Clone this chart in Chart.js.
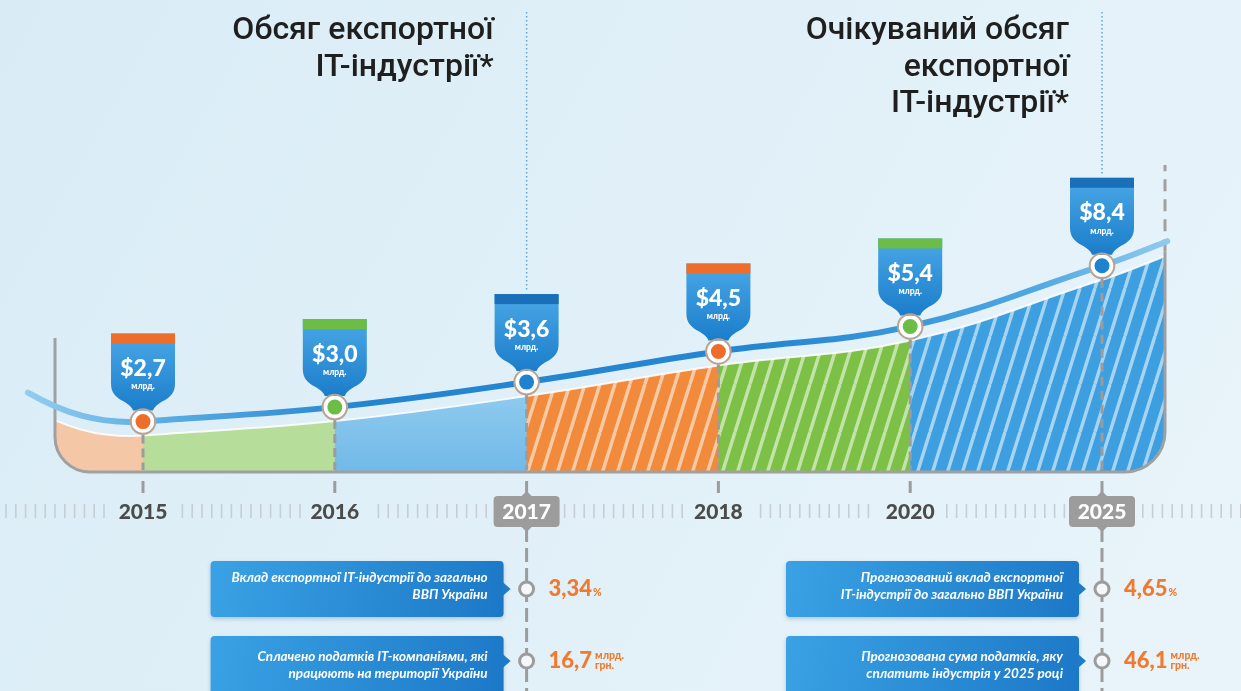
<!DOCTYPE html>
<html lang="uk">
<head>
<meta charset="utf-8">
<title>Обсяг експортної IT-індустрії</title>
<script src="https://cdn.jsdelivr.net/npm/chart.js@4.4.1/dist/chart.umd.min.js"></script>
<style>
  html, body { margin: 0; padding: 0; background: #e2f0f8; overflow: hidden; }
  canvas { display: block; }
</style>
</head>
<body>
<canvas id="chart" width="1241" height="691"></canvas>
<script>
// обсяг експорту IT-індустрії, млрд $
const years = ['2015', '2016', '2017', '2018', '2020', '2025'];
const exportBn = [2.7, 3.0, 3.6, 4.5, 5.4, 8.4];
const keyYears = ['2017', '2025'];

const dotColors = ['#ef6d2a', '#6bbd45', '#1f82d0', '#ef6d2a', '#6bbd45', '#1f82d0'];
const capColors = ['#ef6d2a', '#6bbd45', '#1a6fb9', '#ef6d2a', '#6bbd45', '#1a6fb9'];

const titles2017 = ['Обсяг експортної', 'IT-індустрії*'];
const titles2025 = ['Очікуваний обсяг', 'експортної', 'IT-індустрії*'];

const notes2017 = [
	['Вклад експортної IT-індустрії до загально', 'ВВП України'],
	['Сплачено податків IT-компаніями, які', 'працюють на території України']
];
const notes2025 = [
	['Прогнозований вклад експортної', 'IT-індустрії до загально ВВП України'],
	['Прогнозована сума податків, яку', 'сплатить індустрія у 2025 році']
];
const figures2017 = ['3,34', '16,7'];
const figures2025 = ['4,65', '46,1'];
const figureUnits = [['%'], ['млрд.', 'грн.']];

let canvas = document.getElementById('chart');
let ctx = canvas.getContext('2d');

let lineGradient = ctx.createLinearGradient(25, 0, 1170, 0);
lineGradient.addColorStop(0, '#93cdef');
lineGradient.addColorStop(0.12, '#5aade3');
lineGradient.addColorStop(0.3, '#2384d0');
lineGradient.addColorStop(0.65, '#2586d2');
lineGradient.addColorStop(0.88, '#4fa7e2');
lineGradient.addColorStop(1, '#90cbee');

function hatch(base){
	let c = document.createElement('canvas');
	c.width = 15; c.height = 48;
	let g = c.getContext('2d');
	g.fillStyle = base;
	g.fillRect(0, 0, 15, 48);
	g.strokeStyle = 'rgba(255,255,255,0.55)';
	g.lineWidth = 3.5;
	for(let off of [-15, 0, 15]){
		g.beginPath();
		g.moveTo(off, 48);
		g.lineTo(off + 15, 0);
		g.stroke();
	}
	return ctx.createPattern(c, 'repeat');
}

function money(v){
	return '$' + v.toFixed(1).replace('.', ',');
}

function tails(pts){
	let step = pts[1].x - pts[0].x;
	let p0 = pts[0], n = pts[pts.length - 1], m = pts[pts.length - 2];
	let slope = (n.y - m.y) / (n.x - m.x);
	let E = {x: p0.x - 0.6 * step, y: p0.y - 29};
	let F = {x: n.x + 0.34 * step, y: n.y + slope * 0.34 * step - 4};
	return {
		E: E,
		lc1: {x: E.x + 35, y: E.y + 20},
		lc2: {x: p0.x - 45, y: p0.y + 3},
		F: F,
		rc1: {x: n.x + 22, y: n.y + slope * 22},
		rc2: {x: F.x - 22, y: F.y + 22 * 0.4}
	};
}

function traceCurve(c, pts, dy, t){
	c.moveTo(t.E.x, t.E.y + dy);
	c.bezierCurveTo(t.lc1.x, t.lc1.y + dy, t.lc2.x, t.lc2.y + dy, pts[0].x, pts[0].y + dy);
	for(let i = 1; i < pts.length; i++){
		let a = pts[i - 1], b = pts[i];
		c.bezierCurveTo(a.cp2x, a.cp2y + dy, b.cp1x, b.cp1y + dy, b.x, b.y + dy);
	}
	c.bezierCurveTo(t.rc1.x, t.rc1.y + dy, t.rc2.x, t.rc2.y + dy, t.F.x, t.F.y + dy);
}

function drawPin(c, x, y, cap, label){
	let w = 32, top = y - 88;
	c.beginPath();
	c.moveTo(x - w, top);
	c.lineTo(x + w, top);
	c.lineTo(x + w, y - 38);
	c.bezierCurveTo(x + w, y - 20, x + 14, y - 22, x + 10, y - 11);
	c.lineTo(x - 10, y - 11);
	c.bezierCurveTo(x - 14, y - 22, x - w, y - 20, x - w, y - 38);
	c.closePath();
	let g = c.createLinearGradient(0, top, 0, y - 11);
	g.addColorStop(0, '#4aa8e6');
	g.addColorStop(1, '#1b7dcb');
	c.fillStyle = g;
	c.fill();
	c.fillStyle = cap;
	c.fillRect(x - w, top, 2 * w, 10);
	c.fillStyle = '#ffffff';
	c.textAlign = 'center';
	c.textBaseline = 'middle';
	c.font = '900 23px Lato';
	c.fillText(label, x, y - 53);
	c.font = '900 8.5px Lato';
	c.fillText('млрд.', x, y - 35);
}

function noteBox(c, x0, x1, y0, y1, py, ty, lines){
	let g = c.createLinearGradient(x0, y0, x1, y1);
	g.addColorStop(0, '#3aa2e4');
	g.addColorStop(1, '#1c78c7');
	c.save();
	c.shadowColor = 'rgba(20,70,120,0.25)';
	c.shadowBlur = 4;
	c.shadowOffsetY = 2;
	c.fillStyle = g;
	c.beginPath();
	c.roundRect(x0, y0, x1 - x0, y1 - y0, 4);
	c.fill();
	c.restore();
	c.fillStyle = '#1e7bc8';
	c.beginPath();
	c.moveTo(x1 - 1, py - 7);
	c.lineTo(x1 + 7, py);
	c.lineTo(x1 - 1, py + 7);
	c.closePath();
	c.fill();
	c.fillStyle = '#ffffff';
	c.font = 'italic 700 13.5px Lato';
	c.textAlign = 'right';
	c.textBaseline = 'middle';
	c.fillText(lines[0], x1 - 16, ty - 8.5);
	c.fillText(lines[1], x1 - 16, ty + 8.5);
}

function figure(c, x, y, value, units){
	c.fillStyle = '#f07a2d';
	c.textAlign = 'left';
	c.textBaseline = 'middle';
	c.font = '900 22px Lato';
	c.fillText(value, x, y);
	let w = c.measureText(value).width;
	c.font = '900 10.5px Lato';
	if(units.length == 1){
		c.fillText(units[0], x + w + 1, y + 4);
	}else{
		c.fillText(units[0], x + w + 3, y - 5);
		c.fillText(units[1], x + w + 3, y + 5);
	}
}

function ringDot(c, x, y){
	c.beginPath();
	c.arc(x, y, 7, 0, Math.PI * 2);
	c.fillStyle = '#f4f8fb';
	c.fill();
	c.lineWidth = 3;
	c.strokeStyle = '#9c9c9c';
	c.stroke();
}

const BOWL_L = 55, BOWL_R = 1165, BOWL_B = 472;

let infographic = {
	id: 'infographic',
	beforeDraw(chart){
		let c = chart.ctx;
		let W = chart.width, H = chart.height;
		let xs = chart.scales.x;
		let meta = chart.getDatasetMeta(0);
		c.save();
		let bg = c.createLinearGradient(0, 0, W, H);
		bg.addColorStop(0, '#d9ecf6');
		bg.addColorStop(1, '#e9f4fa');
		c.fillStyle = bg;
		c.fillRect(0, 0, W, H);

		// titles + dotted guides
		let tset = [titles2017, titles2025];
		keyYears.forEach((yr, k) => {
			let i = years.indexOf(yr);
			let x = xs.getPixelForValue(i);
			let p = meta.data[i];
			c.fillStyle = '#1f1f1f';
			c.font = '500 32px Roboto';
			c.textAlign = 'right';
			c.textBaseline = 'alphabetic';
			tset[k].forEach((t, j) => c.fillText(t, x - 33, 39 + j * 36.5));
			c.strokeStyle = '#5fa6d6';
			c.lineWidth = 1.5;
			c.setLineDash([1.5, 2.5]);
			c.beginPath();
			c.moveTo(x, 12);
			c.lineTo(x, p.y - 90);
			c.stroke();
			c.setLineDash([]);
		});
		c.restore();
	},
	beforeDatasetsDraw(chart){
		let c = chart.ctx;
		let meta = chart.getDatasetMeta(0);
		meta.dataset.updateControlPoints(chart.chartArea, 'x');
		let pts = meta.data;
		let t = tails(pts);
		c.save();

		// coloured area under the curve
		let bowl = new Path2D();
		bowl.moveTo(BOWL_L, 0);
		bowl.lineTo(BOWL_R, 0);
		bowl.lineTo(BOWL_R, BOWL_B - 40);
		bowl.arcTo(BOWL_R, BOWL_B, BOWL_R - 40, BOWL_B, 40);
		bowl.lineTo(BOWL_L + 35, BOWL_B);
		bowl.arcTo(BOWL_L, BOWL_B, BOWL_L, BOWL_B - 35, 35);
		bowl.closePath();

		let under = new Path2D();
		traceCurve(under, pts, 14, t);
		under.lineTo(t.F.x + 10, 700);
		under.lineTo(t.E.x - 10, 700);
		under.closePath();

		let lb = c.createLinearGradient(0, 380, 0, 470);
		lb.addColorStop(0, '#93cdef');
		lb.addColorStop(1, '#72bae9');
		let styles = ['#f4c8a6', '#b7dd9b', lb, hatch('#f28a3b'), hatch('#7cc146'), hatch('#3d9fe0')];
		let edges = [BOWL_L].concat(pts.map(p => p.x)).concat([BOWL_R]);
		// 2025 lies inside the last region
		edges.splice(edges.length - 2, 1);

		c.save();
		c.clip(bowl);
		c.clip(under);
		for(let i = 0; i < styles.length; i++){
			c.fillStyle = styles[i];
			c.fillRect(edges[i], 0, edges[i + 1] - edges[i] + 0.5, 700);
		}
		c.restore();

		c.save();
		c.clip(bowl);
		c.beginPath();
		traceCurve(c, pts, 14, t);
		c.strokeStyle = 'rgba(255,255,255,0.85)';
		c.lineWidth = 2;
		c.stroke();
		c.restore();

		// bowl outline
		c.strokeStyle = '#a0a0a0';
		c.lineWidth = 3;
		c.beginPath();
		c.moveTo(BOWL_L, 338);
		c.lineTo(BOWL_L, BOWL_B - 35);
		c.arcTo(BOWL_L, BOWL_B, BOWL_L + 35, BOWL_B, 35);
		c.lineTo(BOWL_R - 40, BOWL_B);
		c.arcTo(BOWL_R, BOWL_B, BOWL_R, BOWL_B - 40, 40);
		c.lineTo(BOWL_R, t.F.y + 10);
		c.stroke();
		c.setLineDash([12, 8]);
		c.beginPath();
		c.moveTo(BOWL_R, t.F.y + 10);
		c.lineTo(BOWL_R, 165);
		c.stroke();

		// year guides
		c.strokeStyle = '#9c9c9c';
		c.setLineDash([9, 5]);
		pts.forEach((p, i) => {
			c.beginPath();
			c.moveTo(p.x, p.y + 13);
			c.lineTo(p.x, BOWL_B - 2);
			c.stroke();
		});
		c.setLineDash([]);
		pts.forEach((p, i) => {
			c.beginPath();
			c.moveTo(p.x, 481);
			c.lineTo(p.x, 493);
			c.stroke();
			if(keyYears.includes(years[i])){
				c.setLineDash([14, 6]);
				c.beginPath();
				c.moveTo(p.x, 528);
				c.lineTo(p.x, 691);
				c.stroke();
				c.setLineDash([]);
			}
		});

		// ruler
		c.strokeStyle = '#c6ced4';
		c.lineWidth = 1.6;
		for(let x = 6; x < chart.width; x += 9.8){
			if(pts.some(p => Math.abs(p.x - x) < 34)) continue;
			c.beginPath();
			c.moveTo(x, 504);
			c.lineTo(x, 518);
			c.stroke();
		}

		// year labels
		c.textAlign = 'center';
		c.textBaseline = 'middle';
		c.font = '900 21px Lato';
		pts.forEach((p, i) => {
			if(keyYears.includes(years[i])){
				c.fillStyle = '#9c9c9c';
				c.beginPath();
				c.roundRect(p.x - 33, 496, 66, 31, 4);
				c.fill();
				c.beginPath();
				c.moveTo(p.x - 5, 496); c.lineTo(p.x, 491); c.lineTo(p.x + 5, 496);
				c.moveTo(p.x - 5, 527); c.lineTo(p.x, 532); c.lineTo(p.x + 5, 527);
				c.fill();
				c.fillStyle = '#ffffff';
			}else{
				c.fillStyle = '#4b4b4b';
			}
			c.fillText(years[i], p.x, 512);
		});

		// line tails
		c.strokeStyle = lineGradient;
		c.lineWidth = 6;
		c.lineCap = 'round';
		let n = pts[pts.length - 1];
		c.beginPath();
		c.moveTo(t.E.x, t.E.y);
		c.bezierCurveTo(t.lc1.x, t.lc1.y, t.lc2.x, t.lc2.y, pts[0].x, pts[0].y);
		c.moveTo(n.x, n.y);
		c.bezierCurveTo(t.rc1.x, t.rc1.y, t.rc2.x, t.rc2.y, t.F.x, t.F.y);
		c.stroke();
		c.restore();
	},
	afterDatasetsDraw(chart){
		let c = chart.ctx;
		let pts = chart.getDatasetMeta(0).data;
		c.save();
		pts.forEach((p, i) => {
			drawPin(c, p.x, p.y, capColors[i], money(exportBn[i]));
			c.beginPath();
			c.arc(p.x, p.y, 12.3, 0, Math.PI * 2);
			c.strokeStyle = '#b9a493';
			c.lineWidth = 2;
			c.stroke();
		});
		c.restore();
	},
	afterDraw(chart){
		let c = chart.ctx;
		let pts = chart.getDatasetMeta(0).data;
		let noteSets = [notes2017, notes2025];
		let figSets = [figures2017, figures2025];
		c.save();
		keyYears.forEach((yr, k) => {
			let x = pts[years.indexOf(yr)].x;
			let rows = [589, 661];
			let textRows = [586, 665];
			rows.forEach((y, j) => {
				let top = j == 0 ? 561 : 636;
				let bottom = j == 0 ? 617 : 700;
				noteBox(c, x - 316, x - 23, top, bottom, y, textRows[j], noteSets[k][j]);
				ringDot(c, x, y);
				figure(c, x + 22, y, figSets[k][j], figureUnits[j]);
			});
		});
		c.restore();
	}
};

let chart = new Chart(ctx, {
	type: 'line',
	data: {
		labels: years,
		datasets: [{
			label: 'Обсяг експортної IT-індустрії, млрд $',
			data: exportBn,
			borderColor: lineGradient,
			borderWidth: 6,
			tension: 0.4,
			fill: false,
			clip: false,
			pointRadius: 9.5,
			pointBackgroundColor: dotColors,
			pointBorderColor: '#ffffff',
			pointBorderWidth: 4
		}]
	},
	options: {
		responsive: false,
		animation: false,
		events: [],
		layout: {autoPadding: false, padding: {left: 143, right: 139, top: 0, bottom: 0}},
		plugins: {legend: {display: false}, tooltip: {enabled: false}},
		scales: {
			x: {display: false},
			y: {type: 'logarithmic', display: false, min: 0.3791, max: 58.27}
		}
	},
	plugins: [infographic]
});
</script>
</body>
</html>
